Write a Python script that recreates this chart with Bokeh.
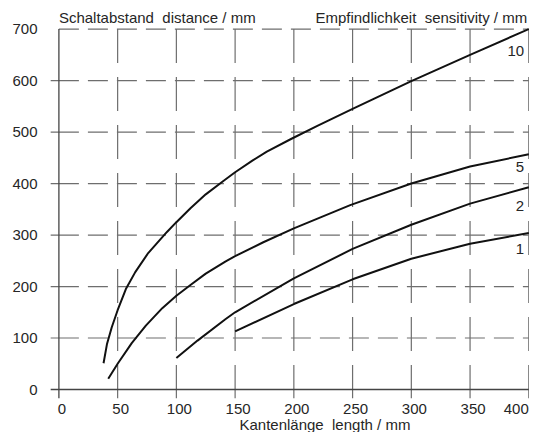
from bokeh.plotting import figure
from bokeh.models import FixedTicker, Label
from bokeh.embed import file_html
from bokeh.resources import INLINE

# ---- data ----
x_ticks = [0, 50, 100, 150, 200, 250, 300, 350, 400]
y_ticks = [0, 100, 200, 300, 400, 500, 600, 700]

s10_x = [38, 41, 45, 50, 57, 65, 76, 92, 100, 112, 125, 140, 150, 165, 177, 198, 220, 250, 300, 350, 400]
s10_y = [51, 89, 121, 154, 195, 228, 265, 306, 325, 352, 379, 405, 422, 445, 462, 487, 512, 545, 599, 650, 700]

s5_x = [42, 50, 62, 74, 88, 100, 112, 125, 142, 150, 174, 200, 248, 300, 350, 400]
s5_y = [21, 50, 90, 124, 158, 182, 203, 225, 249, 259, 286, 313, 358, 400, 433, 457]

s2_x = [100, 118, 142, 150, 200, 250, 300, 350, 400]
s2_y = [61, 95, 137, 150, 216, 273, 320, 361, 393]

s1_x = [150, 200, 250, 300, 350, 400]
s1_y = [113, 166, 214, 254, 283, 304]

series_names = ["10", "5", "2", "1"]

FONT = "Liberation Sans"
TXT = "#262626"
GRID = "#6e6e6e"

p = figure(width=529, height=432, output_backend="svg", toolbar_location=None,
           x_range=(-8, 400.6), y_range=(-83.5, 755.5),
           min_border_left=49, min_border_right=0, min_border_top=0, min_border_bottom=0)
p.outline_line_color = None
p.grid.visible = False
p.background_fill_color = "white"
p.xaxis.visible = False

ax = p.yaxis[0]
ax.axis_line_color = None
ax.major_tick_line_color = None
ax.minor_tick_line_color = None
ax.major_label_text_font = FONT
ax.major_label_text_font_size = "15px"
ax.major_label_text_color = TXT
ax.ticker = FixedTicker(ticks=y_ticks)
ax.major_label_standoff = 6

# ---- grid ----
hy = [v for v in y_ticks if 0 < v < 700]
p.segment(x0=[-7] * len(hy), y0=hy, x1=[0] * len(hy), y1=hy, line_color=GRID, line_width=1.2)
p.segment(x0=[0] * len(hy), y0=hy, x1=[400] * len(hy), y1=hy,
          line_color=GRID, line_width=1.2, line_dash="20 9")
p.segment(x0=[0], y0=[700], x1=[400], y1=[700], line_color=GRID, line_width=1.2, line_dash="20 9")
vx = [v for v in x_ticks if v > 0]
p.segment(x0=vx, y0=[700] * len(vx), x1=vx, y1=[-17] * len(vx),
          line_color=GRID, line_width=1.2, line_dash="34 14")
p.segment(x0=[0], y0=[700], x1=[0], y1=[-17], line_color="#444444", line_width=1.3)
p.segment(x0=[-7], y0=[0], x1=[400], y1=[0], line_color="#444444", line_width=1.3)

# ---- x tick labels (drawn through the data scale) ----
inner = x_ticks[:-1]
p.text(x=inner, y=[-37] * len(inner), text=[str(t) for t in inner],
       x_offset=3, text_align="center", text_baseline="middle",
       text_font={"value": FONT}, text_font_size="15px", text_color=TXT)
last = x_ticks[-1:]
p.text(x=last, y=[-37], text=[str(t) for t in last],
       x_offset=0, text_align="right", text_baseline="middle",
       text_font={"value": FONT}, text_font_size="15px", text_color=TXT)

# ---- curves ----
for xs, ys in ((s10_x, s10_y), (s5_x, s5_y), (s2_x, s2_y), (s1_x, s1_y)):
    p.line(xs, ys, line_color="#111111", line_width=2)

# ---- curve labels ----
ends = [s10_y[-1], s5_y[-1], s2_y[-1], s1_y[-1]]
drops = [42, 25, 36, 31]
for name, e, d in zip(series_names, ends, drops):
    p.add_layout(Label(x=396, y=e - d, text=name, text_align="right", text_baseline="middle",
                       text_font=FONT, text_font_size="15px", text_color=TXT))

# ---- titles ----
p.add_layout(Label(x=0, y=722.5, text="Schaltabstand\u00a0 distance / mm", text_align="left",
                   text_baseline="middle", text_font=FONT, text_font_size="15px", text_color=TXT))
p.add_layout(Label(x=398.6, y=722.5, text="Empfindlichkeit\u00a0 sensitivity / mm", text_align="right",
                   text_baseline="middle", text_font=FONT, text_font_size="15px", text_color=TXT))
p.add_layout(Label(x=153.7, y=-68.5, text="Kantenlänge\u00a0 length / mm", text_align="left",
                   text_baseline="middle", text_font=FONT, text_font_size="15px", text_color=TXT))

open("out.html", "w").write(file_html(p, INLINE))
